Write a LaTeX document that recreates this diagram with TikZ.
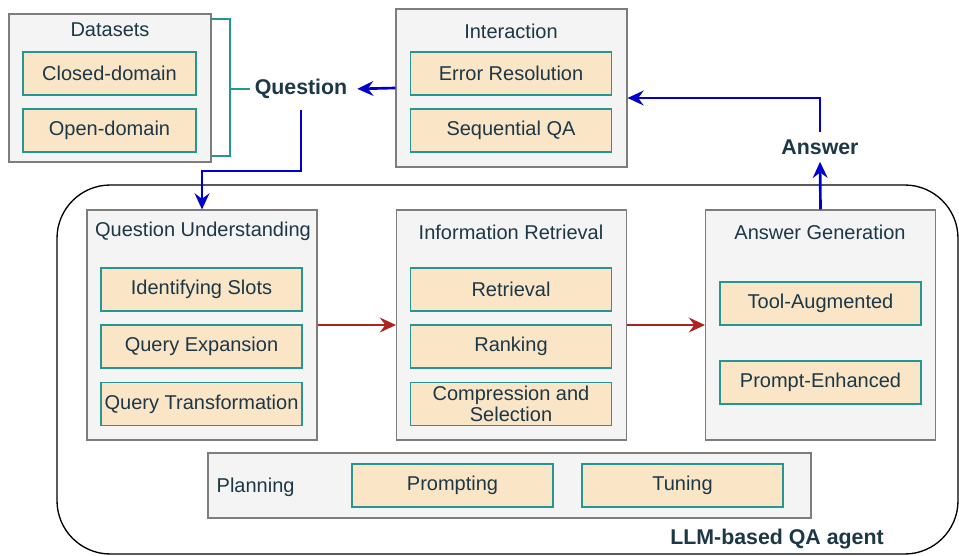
\documentclass[tikz,border=0pt]{standalone}
\usepackage{fontspec}
\setmainfont{Liberation Sans}
\usetikzlibrary{arrows.meta}
\definecolor{txtcol}{RGB}{28,55,70}
\definecolor{peach}{RGB}{250,229,199}
\definecolor{tealb}{RGB}{38,150,146}
\definecolor{grayf}{RGB}{244,244,244}
\definecolor{grayb}{RGB}{125,125,125}
\definecolor{qblue}{RGB}{0,0,205}
\definecolor{fred}{RGB}{175,35,30}

\begin{document}
\begin{tikzpicture}[x=0.75pt,y=0.75pt,yscale=-1,xscale=1,
  every node/.style={font=\fontsize{15}{18}\selectfont, text=txtcol},
  group/.style={draw=grayb, fill=grayf, line width=0.8pt, minimum width=172.5pt, minimum height=172.5pt, inner sep=0pt},
  item/.style={draw=tealb, fill=peach, line width=1pt, minimum width=150.75pt, minimum height=32.25pt, inner sep=1pt, align=center},
  bold/.style={font=\fontsize{16}{19}\selectfont\bfseries},
  flow/.style={draw=qblue, line width=2pt, -{Stealth[length=12pt,width=11pt,inset=4pt]}},
  pass/.style={draw=fred, line width=2pt, -{Stealth[length=12pt,width=11pt,inset=4pt]}},
  bracket/.style={draw=tealb, line width=2pt}]
%set diagram size
\useasboundingbox (0,0) rectangle (959,556);

%Shape: Rounded Rect (agent)
\draw [line width=1pt, rounded corners=40pt] (57,185) rectangle (958,554);
% Text Node
\node [bold] (agent) at (777,539) {LLM-based QA agent};

%Datasets
\node [group, minimum width=151.5pt, minimum height=111pt] (datasets) at (110,88) {};
\node (dtitle) at (110,30) {Datasets};
\node [item, minimum width=129.75pt] (closed) at (109.5,73.5) {Closed-domain};
\node [item, minimum width=129.75pt] (open) at (109.5,130.5) {Open-domain};

%Interaction
\node [group, minimum width=173.25pt, minimum height=118.5pt] (interaction) at (511.5,88) {};
\node (ititle) at (511,31) {Interaction};
\node [item] (error) at (511,73.5) {Error Resolution};
\node [item] (seqqa) at (511,130.5) {Sequential QA};

% Text Node
\node [bold] (question) at (301,89) {Question};
\node [bold] (answer) at (820,147) {Answer};

%Question Understanding
\node [group] (qu) at (202,325) {};
\node (qutitle) at (203,231) {Question Understanding};
\node [item] (slots) at (201.5,289.5) {Identifying Slots};
\node [item] (expansion) at (201.5,346.5) {Query Expansion};
\node [item] (transform) at (201.5,404) {Query Transformation};

%Information Retrieval
\node [group] (ir) at (511.5,325) {};
\node (irtitle) at (511,232) {Information Retrieval};
\node [item] (retrieval) at (511,289.5) {Retrieval};
\node [item] (ranking) at (511,346.5) {Ranking};
\node [item] (compress) at (511,404) {Compression and\\[-2pt]Selection};

%Answer Generation
\node [group] (ag) at (820.5,325) {};
\node (agtitle) at (820,232) {Answer Generation};
\node [item] (tool) at (820.5,303.5) {Tool-Augmented};
\node [item] (prompt) at (820.5,382.5) {Prompt-Enhanced};

%Planning
\node [group, minimum width=452.25pt, minimum height=48.75pt] (planning) at (509.5,485.5) {};
\node [anchor=west] (ptitle) at (212,487) {Planning};
\node [item] (prompting) at (452.5,485.5) {Prompting};
\node [item] (tuning) at (682.5,485.5) {Tuning};

%Bracket
\coordinate (brtop) at (211,19);
\coordinate (brbot) at (211,156);
\coordinate (brmid) at (230,89);
\draw [bracket] (brtop) -| (brmid) |- (brbot);
\draw [bracket] (brmid) -- (question.west);

%Arrows
\coordinate (qbend) at (0,171);
\draw [flow, shorten >=4pt] (interaction.west) -- (question.east);
\draw [flow, shorten <=5pt] (question.south) |- (qu.north |- qbend) -- (qu.north);
\draw [flow, shorten >=2pt] (ag.north) -- (answer.south);
\draw [flow, shorten <=2pt] (answer.north) |- ([yshift=7.5pt]interaction.east);
\draw [pass] (qu.east) -- (ir.west);
\draw [pass] (ir.east) -- (ag.west);

\end{tikzpicture}
\end{document}
